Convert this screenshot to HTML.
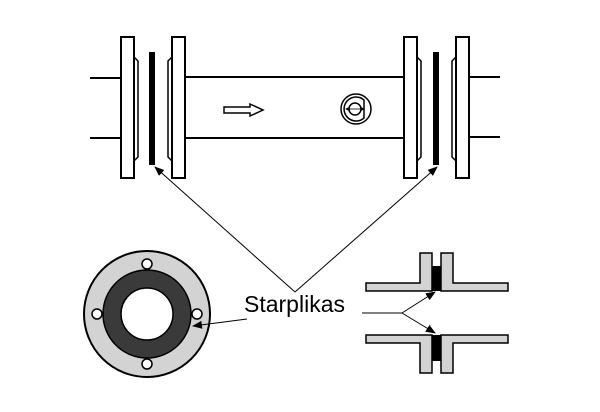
<!DOCTYPE html>
<html><head><meta charset="utf-8"><style>
html,body{margin:0;padding:0;background:#fff;}
svg{display:block;}
</style></head><body>
<svg width="600" height="412" viewBox="0 0 600 412" xmlns="http://www.w3.org/2000/svg">
<defs>
<marker id="ah" markerWidth="10" markerHeight="8" refX="9" refY="4" orient="auto" markerUnits="userSpaceOnUse">
<path d="M0,0 L10,4 L0,8 Z" fill="#000"/>
</marker>
</defs>
<g stroke="#000" stroke-width="2" fill="#fff">
<line x1="90" y1="78" x2="121" y2="78"/>
<line x1="90" y1="138" x2="121" y2="138"/>
<line x1="185" y1="77" x2="404" y2="77"/>
<line x1="185" y1="138" x2="404" y2="138"/>
<line x1="469" y1="77" x2="500" y2="77"/>
<line x1="469" y1="137" x2="500" y2="137"/>
<path d="M134,57 L138,61 L138,157 L134,161" stroke-width="1.5"/>
<rect x="121" y="37" width="13" height="141"/>
<path d="M172,57 L168,61 L168,157 L172,161" stroke-width="1.5"/>
<rect x="172" y="37" width="13" height="141"/>
<path d="M417,57 L421,61 L421,157 L417,161" stroke-width="1.5"/>
<rect x="404" y="37" width="13" height="141"/>
<path d="M456,57 L452,61 L452,157 L456,161" stroke-width="1.5"/>
<rect x="456" y="37" width="13" height="141"/>
</g>
<rect x="149" y="52" width="6" height="113" fill="#000"/>
<rect x="433" y="52" width="6" height="113" fill="#000"/>
<path d="M224,107 L250,107 L250,104 L263,110 L250,116 L250,113 L224,113 Z" fill="#fff" stroke="#000" stroke-width="1.5"/>
<g fill="none" stroke="#000" stroke-width="1.5">
<circle cx="356" cy="109" r="15"/>
<path d="M364,100 A12,12 0 1 0 364,118 Z"/>
<circle cx="355" cy="109" r="6"/>
</g>
<g stroke="#000" stroke-width="0.8" fill="#000">
<line x1="347" y1="109" x2="363" y2="109"/>
<path d="M346,109 L349,107.5 L349,110.5 Z"/>
<path d="M364,109 L361,107.5 L361,110.5 Z"/>
</g>
<circle cx="147" cy="314" r="63" fill="#d3d3d3" stroke="#000" stroke-width="2"/>
<circle cx="147" cy="314" r="44" fill="#3a3a3a" stroke="#000" stroke-width="1.5"/>
<circle cx="147" cy="314" r="26" fill="#fff" stroke="#000" stroke-width="1.5"/>
<g fill="#fff" stroke="#000" stroke-width="1.5">
<circle cx="147" cy="264" r="5"/>
<circle cx="147" cy="364" r="5"/>
<circle cx="97" cy="314" r="5"/>
<circle cx="197" cy="314" r="5"/>
</g>
<g fill="#d3d3d3" stroke="#000" stroke-width="1.5">
<path d="M366,283 L420,283 L420,253 L432,253 L432,291 L366,291 Z"/>
<path d="M441,253 L453,253 L453,283 L508,283 L508,291 L441,291 Z"/>
<path d="M366,335 L432,335 L432,373 L420,373 L420,343 L366,343 Z"/>
<path d="M441,335 L508,335 L508,343 L453,343 L453,373 L441,373 Z"/>
</g>
<rect x="432" y="266" width="9" height="25" fill="#000"/>
<rect x="432" y="335" width="9" height="26" fill="#000"/>
<g stroke="#000" stroke-width="1" fill="none">
<line x1="295" y1="292" x2="155" y2="167" marker-end="url(#ah)"/>
<line x1="295" y1="292" x2="437" y2="167" marker-end="url(#ah)"/>
<line x1="247" y1="319" x2="193" y2="326" marker-end="url(#ah)"/>
<line x1="362" y1="313" x2="402" y2="313"/>
<line x1="402" y1="313" x2="435" y2="292" marker-end="url(#ah)"/>
<line x1="402" y1="313" x2="435" y2="333" marker-end="url(#ah)"/>
</g>
<text x="244" y="312" font-family="Liberation Sans, sans-serif" font-size="23" fill="#000">Starplikas</text>
</svg>
</body></html>
